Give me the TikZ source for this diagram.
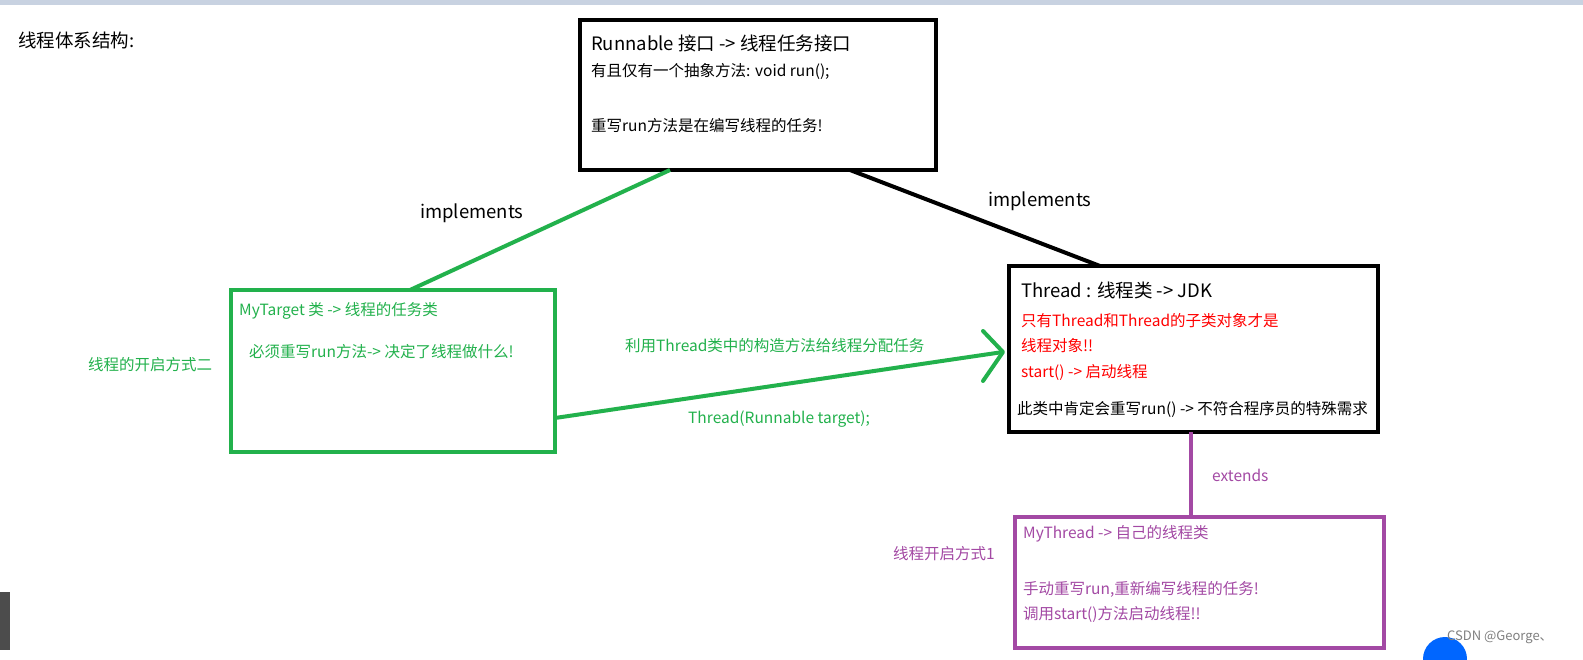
\documentclass[tikz,border=0pt]{standalone}
\usepackage{fontspec}
\setmainfont{Noto Sans CJK SC}
\definecolor{grn}{RGB}{34,177,76}
\definecolor{pur}{RGB}{163,73,164}
\definecolor{bar}{RGB}{200,210,225}
\begin{document}
\begin{tikzpicture}[x=1pt,y=-1pt,
  box/.style={draw,line width=4.5pt},
  txt/.style={anchor=west,inner sep=0pt,font=\fontsize{15.5}{17}\selectfont},
  big/.style={anchor=west,inner sep=0pt,font=\fontsize{18.5}{20}\selectfont}]
\useasboundingbox (0,0) rectangle (1583,659);
\fill[white] (0,0) rectangle (1583,659);
\fill[bar] (0,0) rectangle (1583,5);
\fill[gray!60!black] (0,592) rectangle (10,650);
\begin{scope}
\clip (0,0) rectangle (1583,659);
\fill[blue!60!cyan] (1445,659) circle[radius=22];
\end{scope}
\node[big] (title) at (18,40) {线程体系结构:};
% boxes
\draw[box] (580,20) rectangle (936,170);
\coordinate (rb1) at (670,170); \coordinate (rb2) at (850,170);
\node[big] (r1) at (591,43) {Runnable 接口 -> 线程任务接口};
\node[txt] (r2) at (591,71) {有且仅有一个抽象方法: void run();};
\node[txt] (r3) at (591,126) {重写run方法是在编写线程的任务!};
\draw[box] (1009,266) rectangle (1378,432);
\coordinate (th1) at (1100,266); \coordinate (th2) at (1191,432); \coordinate (tha) at (1003,352);
\node[big] (t1) at (1021,290) {Thread : 线程类 -> JDK};
\node[txt,red] (t2) at (1021,321) {只有Thread和Thread的子类对象才是};
\node[txt,red] (t3) at (1021,346) {线程对象!!};
\node[txt,red] (t4) at (1021,372) {start() -> 启动线程};
\node[txt] (t5) at (1017,409) {此类中肯定会重写run() -> 不符合程序员的特殊需求};
\draw[box,grn] (231,290) rectangle (555,452);
\coordinate (mt1) at (410,290); \coordinate (mt2) at (555,418);
\node[txt,grn] (m1) at (239,311) {MyTarget 类 -> 线程的任务类};
\node[txt,grn] (m2) at (249,352) {必须重写run方法-> 决定了线程做什么!};
\node[txt,grn] (m3) at (88,365) {线程的开启方式二};
\draw[box,pur] (1015,517) rectangle (1384,648);
\coordinate (my1) at (1191,517);
\node[txt,pur] (p1) at (1023,534) {MyThread -> 自己的线程类};
\node[txt,pur] (p2) at (1023,589) {手动重写run,重新编写线程的任务!};
\node[txt,pur] (p3) at (1023,614) {调用start()方法启动线程!!};
\node[txt,pur] (p4) at (893,554) {线程开启方式1};
% connectors
\draw[grn,line width=4pt] (rb1) -- (mt1);
\draw[line width=4pt] (rb2) -- (th1);
\draw[pur,line width=4pt] (th2) -- (my1);
\draw[grn,line width=4pt] (mt2) -- (tha);
\draw[grn,line width=4pt,line cap=round,line join=round] (983,331) -- (tha) -- (983,381);
\node[big] (i1) at (420,213) {implements};
\node[big] (i2) at (988,201) {implements};
\node[txt,pur] (ex) at (1212,475) {extends};
\node[txt,grn] (a1) at (625,346) {利用Thread类中的构造方法给线程分配任务};
\node[txt,grn] (a2) at (688,419) {Thread(Runnable target);};
\node[txt,gray,font=\fontsize{13}{15}\selectfont] (wm) at (1447,637) {CSDN @George、};
\end{tikzpicture}
\end{document}
